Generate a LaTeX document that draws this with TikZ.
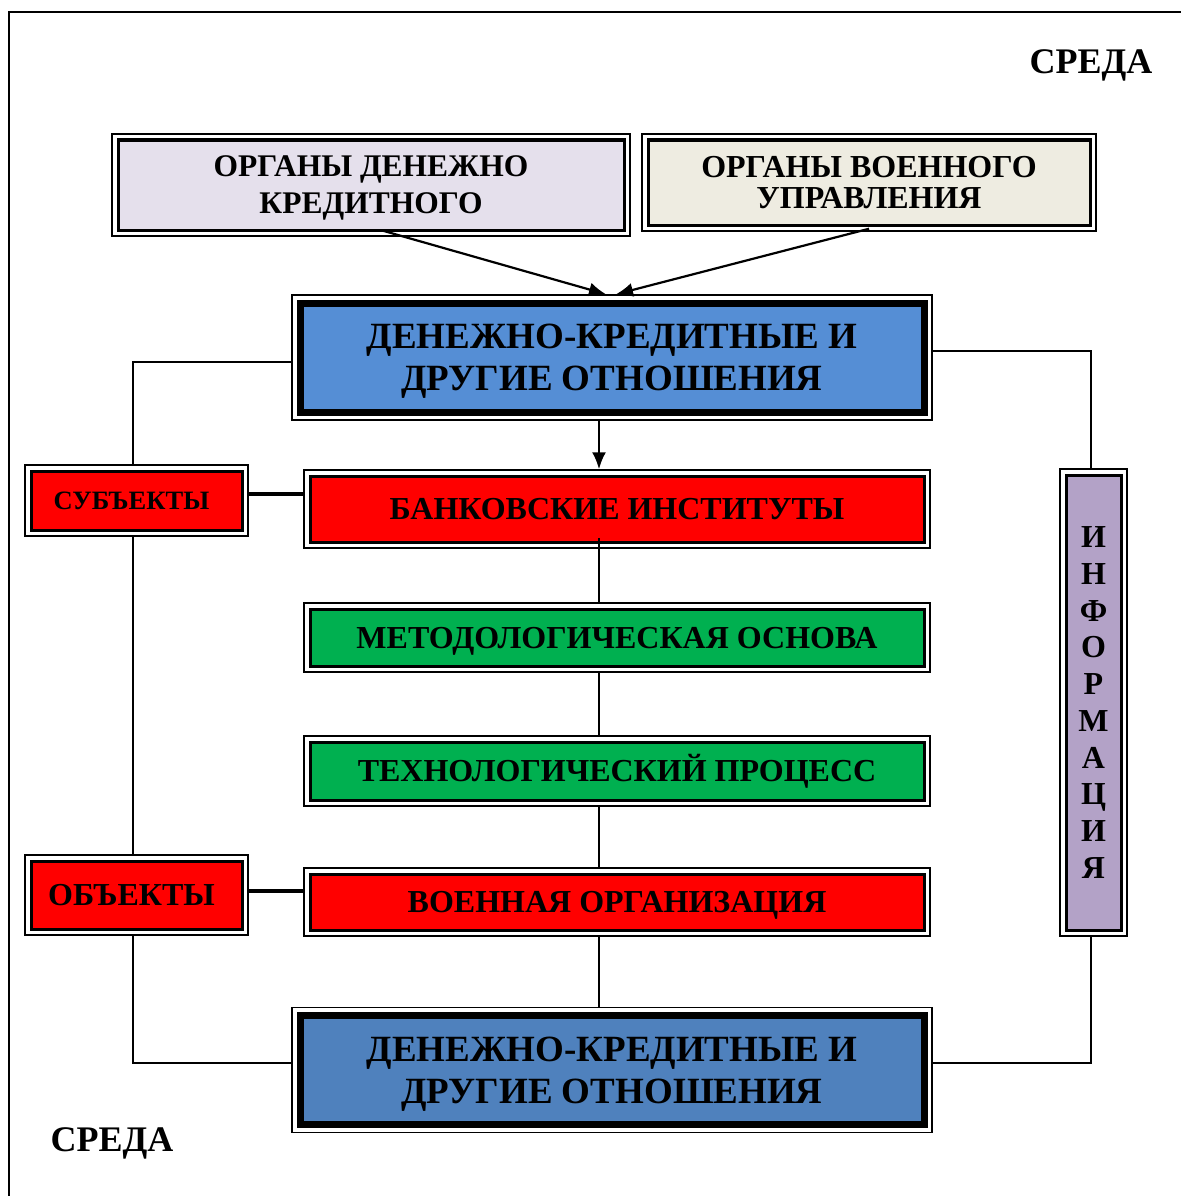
\documentclass[tikz,border=0pt]{standalone}
\usepackage{fontspec}
\setmainfont{Liberation Serif}
\usetikzlibrary{arrows.meta}
\definecolor{orgA}{HTML}{E5E0EC}
\definecolor{orgB}{HTML}{EEECE1}
\definecolor{relA}{HTML}{558ED5}
\definecolor{relB}{HTML}{4F81BD}
\definecolor{boxgreen}{HTML}{00B050}
\definecolor{infocol}{HTML}{B3A2C7}
\tikzset{link/.style = {line width=2pt}}
\tikzset{boldlink/.style = {line width=3.5pt}}
\tikzset{arr/.style = {line width=2.2pt, -{Latex[length=17pt,width=14pt]}}}
% outer thin line, white gap, inner coloured panel
\tikzset{panel/.style n args = {3}{draw, line width=1.5pt, fill=white,
                                  inner sep=0pt, align=center, text depth=0pt,
                                  path picture={\draw[line width=#2, fill=#1]
                                    ([shift={(#3,-#3)}]path picture bounding box.north west) rectangle
                                    ([shift={(-#3,#3)}]path picture bounding box.south east);}}}
\tikzset{relbox/.style = {panel={#1}{7pt}{8pt}, minimum width=640pt, minimum height=125pt,
                          font=\bfseries\fontsize{37}{42}\selectfont}}
\tikzset{orgbox/.style = {panel={#1}{3pt}{6pt},
                          font=\bfseries\fontsize{31.5}{37}\selectfont}}
\tikzset{midbox/.style = {panel={#1}{3pt}{6pt}, minimum width=626pt, text height=21pt,
                          font=\bfseries\fontsize{32}{38}\selectfont}}
\tikzset{sidebox/.style = {panel={red}{3pt}{6pt}, minimum width=223pt}}
\tikzset{envlabel/.style = {text height=23.6pt, text depth=0pt,
                            font=\bfseries\fontsize{36}{40}\selectfont}}

\begin{document}
\begin{tikzpicture}[x=1pt, y=-1pt]
      \useasboundingbox (0,0) rectangle (1181,1196);
      \draw [line width=2pt] (9,1196) -- (9,12.5) -- (1181,12.5);
      \coordinate (spine) at (599,0);
      \coordinate (lcol) at (133,0);
      \coordinate (rcol) at (1091,0);
      \node [orgbox=orgA, minimum width=518pt, minimum height=102pt] (org1) at (371,185) {ОРГАНЫ ДЕНЕЖНО\\КРЕДИТНОГО};
      \node [orgbox=orgB, minimum width=454pt, minimum height=97pt,
             font=\bfseries\fontsize{32}{31}\selectfont] (org2) at (869,182.5) {ОРГАНЫ ВОЕННОГО\\УПРАВЛЕНИЯ};
      \node [relbox=relA] (rel1) at (612,357.5) {ДЕНЕЖНО-КРЕДИТНЫЕ И\\ДРУГИЕ ОТНОШЕНИЯ};
      \node [midbox=red, minimum height=78pt] (bank) at (617,509) {БАНКОВСКИЕ ИНСТИТУТЫ};
      \node [midbox=boxgreen, minimum height=69pt] (method) at (617,637.5) {МЕТОДОЛОГИЧЕСКАЯ ОСНОВА};
      \node [midbox=boxgreen, minimum height=70pt] (tech) at (617,771) {ТЕХНОЛОГИЧЕСКИЙ ПРОЦЕСС};
      \node [midbox=red, minimum height=68pt] (army) at (617,902) {ВОЕННАЯ ОРГАНИЗАЦИЯ};
      \node [relbox=relB] (rel2) at (612,1070) {ДЕНЕЖНО-КРЕДИТНЫЕ И\\ДРУГИЕ ОТНОШЕНИЯ};
      \node [sidebox, minimum height=71pt, text height=17.4pt,
             font=\bfseries\fontsize{26.5}{30}\selectfont] (subj) at (136.5,500.5) {СУБЪЕКТЫ\hspace{10pt}};
      \node [sidebox, minimum height=80pt, text height=21pt,
             font=\bfseries\fontsize{32}{36}\selectfont] (obj) at (136.5,895) {ОБЪЕКТЫ\hspace{10pt}};
      \node [panel={infocol}{3pt}{6pt}, minimum width=67pt, minimum height=467pt,
             font=\bfseries\fontsize{32}{36.7}\selectfont] (info) at (1093.5,702.5) {И\\Н\\Ф\\О\\Р\\М\\А\\Ц\\И\\Я};
      \node [envlabel] (env1) at (1091,61.5) {СРЕДА};
      \node [envlabel] (env2) at (112,1140) {СРЕДА};
      \draw [arr] ([xshift=12pt, yshift=6pt]org1.south) -- ([xshift=-6pt]rel1.north);
      \draw [arr] ([yshift=3pt]org2.south) -- ([xshift=4pt]rel1.north);
      \draw [arr] (rel1.south -| spine) -- (bank.north -| spine);
      \draw [link] ([yshift=11pt]bank.south -| spine) -- (method.north -| spine);
      \draw [link] (method.south -| spine) -- (tech.north -| spine);
      \draw [link] (tech.south -| spine) -- (army.north -| spine);
      \draw [link] (army.south -| spine) -- (rel2.north -| spine);
      \draw [link] ([yshift=-4.5pt]rel1.west) -| (subj.north -| lcol);
      \draw [link] (subj.south -| lcol) -- (obj.north -| lcol);
      \draw [link] (obj.south -| lcol) |- ([yshift=7pt]rel2.west);
      \draw [link] ([yshift=6.5pt]rel1.east) -| (info.north -| rcol);
      \draw [link] (info.south -| rcol) |- ([yshift=7pt]rel2.east);
      \draw [boldlink] ([yshift=6.5pt]subj.east) -- ([yshift=6.5pt]subj.east -| bank.west);
      \draw [boldlink] ([yshift=4pt]obj.east) -- ([yshift=4pt]obj.east -| army.west);
    \end{tikzpicture}
\end{document}
